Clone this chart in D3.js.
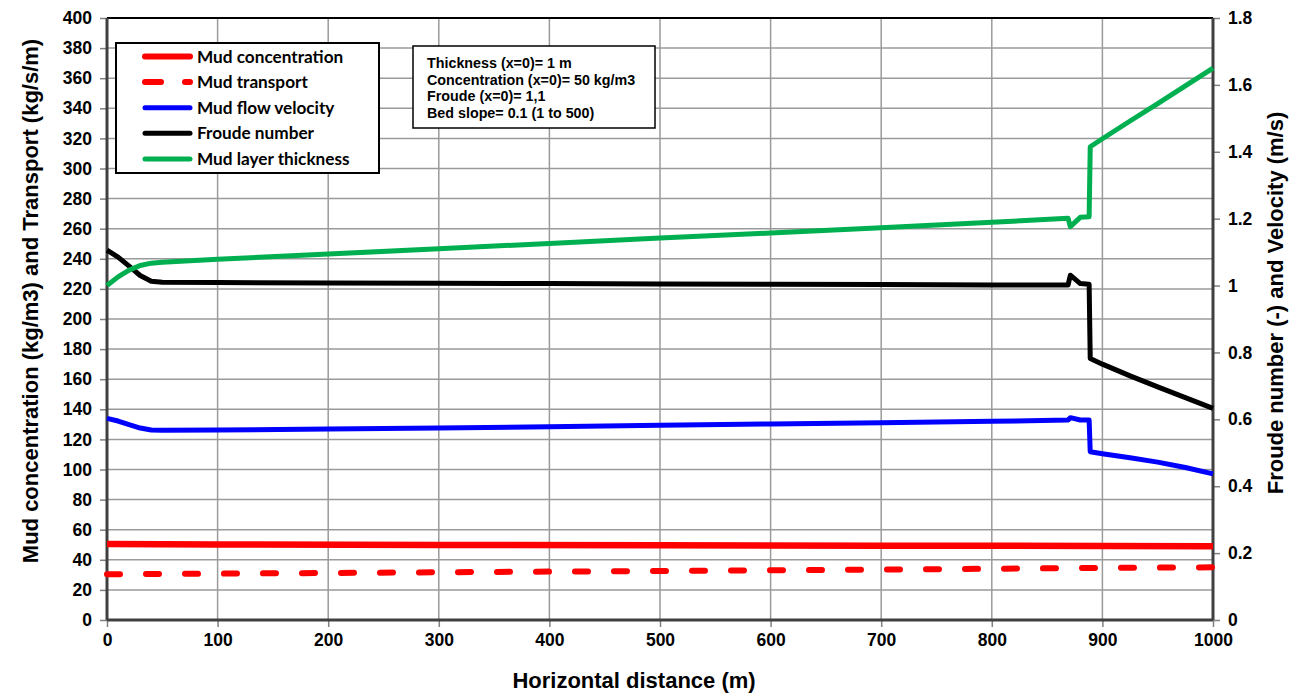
<!DOCTYPE html>
<html>
<head>
<meta charset="utf-8">
<script src="https://cdn.jsdelivr.net/npm/d3@7"></script>
<style>
  body { margin: 0; background: #fff; }
  svg text { font-family: "Liberation Sans", Arial, sans-serif; font-weight: bold; }
</style>
</head>
<body>
<svg id="chart" width="1294" height="694"></svg>
<script>
// x positions (m) shared by velocity, Froude and thickness
const xDist = [0, 10, 20, 30, 40, 50, 100, 200, 300, 400, 500, 600, 700, 800, 869, 871, 880, 888, 889, 900, 925, 950, 975, 1000];
const thickness = [1.0, 1.026, 1.046, 1.06, 1.067, 1.07, 1.079, 1.094, 1.11, 1.126, 1.142, 1.157, 1.173, 1.189, 1.201, 1.176, 1.204, 1.206, 1.415, 1.439, 1.492, 1.544, 1.597, 1.65];
const froude = [1.106, 1.085, 1.058, 1.03, 1.013, 1.01, 1.009, 1.008, 1.007, 1.006, 1.005, 1.004, 1.003, 1.002, 1.002, 1.031, 1.006, 1.004, 0.782, 0.765, 0.73, 0.697, 0.665, 0.633];
const velocity = [0.603, 0.595, 0.584, 0.574, 0.568, 0.567, 0.568, 0.571, 0.574, 0.578, 0.582, 0.586, 0.59, 0.594, 0.598, 0.605, 0.598, 0.598, 0.503, 0.497, 0.485, 0.472, 0.456, 0.437];

// concentration and transport (left axis)
const xConc = [0, 100, 300, 500, 700, 900, 1000];
const concentration = [50.5, 50.2, 49.9, 49.6, 49.4, 49.2, 49.0];
const transport = [30.4, 30.8, 31.7, 32.6, 33.5, 34.6, 35.0];

const legendLabels = ['Mud concentration', 'Mud transport', 'Mud flow velocity', 'Froude number', 'Mud layer thickness'];
const noteLines = ['Thickness (x=0)= 1 m', 'Concentration (x=0)= 50 kg/m3', 'Froude (x=0)= 1,1', 'Bed slope= 0.1 (1 to 500)'];

const svg = d3.select('#chart');
const L = 107, R = 1213, T = 18, B = 620;

const x = d3.scaleLinear().domain([0, 1000]).range([L, R]);
const yL = d3.scaleLinear().domain([0, 400]).range([B, T]);
const yR = d3.scaleLinear().domain([0, 1.8]).range([B, T]);

// gridlines
const grid = svg.append('g').attr('stroke', '#9a9a9a').attr('stroke-width', 1.5);
grid.selectAll('line.h').data(d3.range(20, 400, 20)).enter().append('line')
  .attr('x1', L).attr('x2', R).attr('y1', d => yL(d)).attr('y2', d => yL(d));
grid.selectAll('line.v').data(d3.range(100, 1000, 100)).enter().append('line')
  .attr('y1', T).attr('y2', B).attr('x1', d => x(d)).attr('x2', d => x(d));

// axes
function styleAxis(g) {
  g.select('.domain').remove();
  g.selectAll('.tick line').attr('stroke', '#808080').attr('stroke-width', 1.5);
  g.selectAll('.tick text').attr('fill', '#000').style('font-size', '17.5px');
}
svg.append('g').attr('transform', `translate(${L},0)`)
  .call(d3.axisLeft(yL).tickValues(d3.range(0, 401, 20)).tickSize(7).tickPadding(8))
  .call(styleAxis);
svg.append('g').attr('transform', `translate(${R},0)`)
  .call(d3.axisRight(yR).tickValues(d3.range(0, 1.81, 0.2)).tickFormat(d3.format('~g')).tickSize(7).tickPadding(8))
  .call(styleAxis);
svg.append('g').attr('transform', `translate(0,${B})`)
  .call(d3.axisBottom(x).tickValues(d3.range(0, 1001, 100)).tickFormat(d3.format('d')).tickSize(7).tickPadding(7))
  .call(styleAxis);

// frame
svg.append('line').attr('x1', L).attr('x2', R).attr('y1', T).attr('y2', T).attr('stroke', '#000').attr('stroke-width', 2);
svg.append('line').attr('x1', L).attr('x2', R).attr('y1', B).attr('y2', B).attr('stroke', '#404040').attr('stroke-width', 3);
svg.append('line').attr('x1', L).attr('x2', L).attr('y1', T).attr('y2', B).attr('stroke', '#404040').attr('stroke-width', 3);
svg.append('line').attr('x1', R).attr('x2', R).attr('y1', T).attr('y2', B).attr('stroke', '#404040').attr('stroke-width', 3);

// series
const lineL = d3.line().x(d => x(d[0])).y(d => yL(d[1]));
const lineR = d3.line().x(d => x(d[0])).y(d => yR(d[1]));
const plot = svg.append('g').attr('fill', 'none').attr('stroke-linejoin', 'round');

plot.append('path').datum(d3.zip(xConc, transport)).attr('d', lineL)
  .attr('stroke', '#ff0000').attr('stroke-width', 6).attr('stroke-dasharray', '13,26').attr('stroke-linecap', 'round');
plot.append('path').datum(d3.zip(xConc, concentration)).attr('d', lineL)
  .attr('stroke', '#ff0000').attr('stroke-width', 6.5);
plot.append('path').datum(d3.zip(xDist, velocity)).attr('d', lineR)
  .attr('stroke', '#0000ff').attr('stroke-width', 5);
plot.append('path').datum(d3.zip(xDist, froude)).attr('d', lineR)
  .attr('stroke', '#000000').attr('stroke-width', 5);
plot.append('path').datum(d3.zip(xDist, thickness)).attr('d', lineR)
  .attr('stroke', '#00b050').attr('stroke-width', 5);

// legend
const legColors = ['#ff0000', '#ff0000', '#0000ff', '#000000', '#00b050'];
const leg = svg.append('g');
leg.append('rect').attr('x', 116).attr('y', 43).attr('width', 263).attr('height', 130)
  .attr('fill', '#fff').attr('stroke', '#000').attr('stroke-width', 2);
legendLabels.forEach((lab, i) => {
  const yy = 56.5 + i * 25.6;
  const ln = leg.append('line').attr('x1', 145).attr('x2', 190).attr('y1', yy).attr('y2', yy)
    .attr('stroke', legColors[i]).attr('stroke-width', i < 2 ? 6 : 5).attr('stroke-linecap', 'round');
  if (i === 1) ln.attr('stroke-dasharray', '16,24');
  leg.append('text').attr('x', 197).attr('y', yy).attr('dy', '0.35em')
    .style('font-family', 'Lato, "Open Sans", sans-serif').style('font-size', '17.2px').text(lab);
});

// note box
const note = svg.append('g');
note.append('rect').attr('x', 413).attr('y', 46).attr('width', 242).attr('height', 82)
  .attr('fill', '#fff').attr('stroke', '#000').attr('stroke-width', 1.5);
noteLines.forEach((t, i) => {
  note.append('text').attr('x', 427).attr('y', 63 + i * 16.5).attr('dy', '0.35em')
    .style('font-size', '14.3px').text(t);
});

// axis titles
svg.append('text').attr('transform', 'translate(30,301) rotate(-90)').attr('text-anchor', 'middle')
  .attr('dy', '0.35em').style('font-size', '22px').text('Mud concentration (kg/m3) and Transport (kg/s/m)');
svg.append('text').attr('transform', 'translate(1275,303) rotate(-90)').attr('text-anchor', 'middle')
  .attr('dy', '0.35em').style('font-size', '22px').text('Froude number (-) and Velocity (m/s)');
svg.append('text').attr('x', 634).attr('y', 680).attr('text-anchor', 'middle')
  .attr('dy', '0.35em').style('font-size', '22px').text('Horizontal distance (m)');
</script>
</body>
</html>
